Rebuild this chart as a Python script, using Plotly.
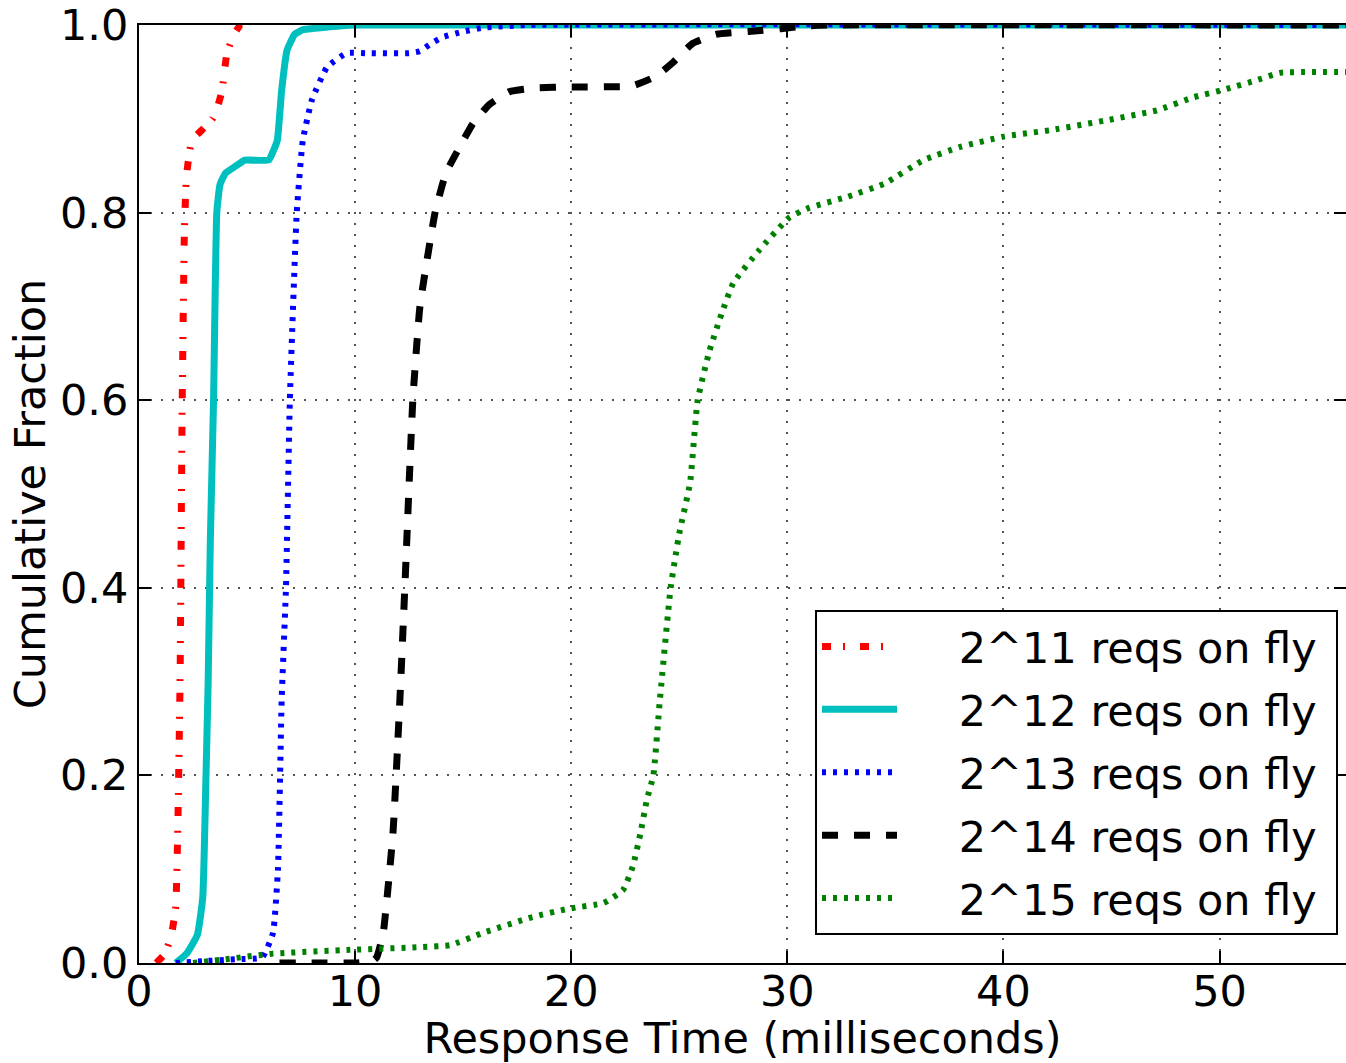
import plotly.graph_objects as go

# ---- data ----
names = ["2^11 reqs on fly", "2^12 reqs on fly", "2^13 reqs on fly",
         "2^14 reqs on fly", "2^15 reqs on fly"]

x11 = [0.8, 1.2, 1.5, 1.7, 1.8, 1.9, 1.95, 2.0, 2.1, 2.2, 2.45, 3.0, 3.4, 3.6, 3.84, 4.07, 4.4, 4.7, 5.2]
y11 = [0.0, 0.01, 0.03, 0.06, 0.15, 0.3, 0.45, 0.6, 0.78, 0.84, 0.877, 0.89, 0.9, 0.91, 0.93, 0.97, 0.99, 1.0, 1.0]

x12 = [1.7, 2.2, 2.7, 2.95, 3.1, 3.2, 3.3, 3.45, 3.6, 3.75, 4.0, 4.5, 4.9, 6.0, 6.2, 6.4, 6.6, 6.85, 7.2, 7.6, 8.8, 10.0, 56.0]
y12 = [0.0, 0.01, 0.03, 0.07, 0.2, 0.3, 0.45, 0.6, 0.8, 0.83, 0.842, 0.85, 0.856, 0.856, 0.865, 0.877, 0.93, 0.973, 0.99, 0.995, 0.998, 1.0, 1.0]

x13 = [1.7, 3.0, 4.5, 5.7, 6.2, 6.43, 6.6, 6.8, 6.98, 7.3, 7.58, 8.0, 8.7, 9.6, 10.5, 12.5, 13.0, 13.5, 14.05, 15.0, 15.9, 18.0, 56.0]
y13 = [0.0, 0.002, 0.004, 0.006, 0.032, 0.1, 0.28, 0.4, 0.6, 0.8, 0.877, 0.92, 0.955, 0.97, 0.97, 0.97, 0.972, 0.98, 0.987, 0.993, 0.997, 1.0, 1.0]

x14 = [6.5, 8.0, 10.0, 10.8, 11.0, 11.3, 11.75, 12.07, 12.3, 12.67, 13.0, 13.7, 14.2, 14.84, 15.45, 16.2, 17.15, 18.4, 19.9, 22.8, 23.9, 24.7, 25.6, 26.7, 28.2, 29.7, 30.8, 32.0, 56.0]
y14 = [0.0, 0.0, 0.0, 0.002, 0.006, 0.032, 0.138, 0.28, 0.4, 0.6, 0.7, 0.8, 0.842, 0.87, 0.895, 0.915, 0.929, 0.933, 0.934, 0.935, 0.945, 0.96, 0.98, 0.99, 0.993, 0.996, 0.999, 1.0, 1.0]

x15 = [2.5, 4.0, 6.2, 9.75, 13.1, 14.4, 15.9, 18.2, 19.9, 21.5, 22.4, 22.85, 23.2, 23.5, 23.8, 24.1, 24.6, 25.0, 25.5, 25.85, 26.4, 27.0, 27.5, 28.7, 30.1, 31.0, 32.8, 34.5, 36.3, 38.0, 40.0, 42.2, 44.9, 47.1, 48.8, 50.2, 51.7, 52.8, 55.9]
y15 = [0.0, 0.004, 0.01, 0.014, 0.017, 0.019, 0.032, 0.049, 0.058, 0.064, 0.078, 0.103, 0.138, 0.174, 0.2, 0.28, 0.4, 0.458, 0.512, 0.6, 0.653, 0.695, 0.725, 0.76, 0.795, 0.805, 0.817, 0.831, 0.856, 0.87, 0.881, 0.888, 0.899, 0.909, 0.923, 0.931, 0.941, 0.949, 0.95]

x_ticks = [0, 10, 20, 30, 40, 50]
y_ticks = [0.0, 0.2, 0.4, 0.6, 0.8, 1.0]
y_tick_text = ["0.0", "0.2", "0.4", "0.6", "0.8", "1.0"]

series = [
    (x11, y11, "#ff0000", 7, "9px,12px,2px,15px"),
    (x12, y12, "#00bfbf", 7, "solid"),
    (x13, y13, "#0000ff", 6, "4px,7px"),
    (x14, y14, "#000000", 7, "16px,16px"),
    (x15, y15, "#008000", 6, "4px,7px"),
]

FONT = "DejaVu Sans"
FS = 43
PAD_L = "\u2002\u2002\u00a0"   # spacing between legend sample and label
PAD_R = "\u00a0"

fig = go.Figure()
for i, ((xs, ys, col, w, dash), nm) in enumerate(zip(series, names)):
    fig.add_trace(go.Scatter(
        x=xs, y=ys, mode="lines", name=PAD_L + nm + PAD_R, legendgroup=f"g{i}",
        line=dict(color=col, width=w, dash=dash, shape="spline", smoothing=0.4),
    ))

axis_common = dict(
    showline=True, linecolor="black", linewidth=2, mirror="ticks",
    ticks="inside", ticklen=12, tickwidth=1.5, tickcolor="black",
    showgrid=True, gridcolor="#555555", gridwidth=1.5, griddash="2px,9px",
    zeroline=False, automargin=False, ticklabeloverflow="allow",
    tickfont=dict(family=FONT, size=FS, color="black"),
)

fig.update_layout(
    width=1346, height=1063,
    margin=dict(l=139, r=0, t=25, b=100),
    paper_bgcolor="white", plot_bgcolor="white",
    font=dict(family=FONT, size=FS, color="black"),
    xaxis=dict(range=[0, 55.85], tickvals=x_ticks, ticktext=[str(t) for t in x_ticks],
               ticklabelstandoff=-11,
               title=dict(text="Response Time (milliseconds)", font=dict(family=FONT, size=FS), standoff=0),
               **axis_common),
    yaxis=dict(range=[0, 1.0], tickvals=y_ticks, ticktext=y_tick_text,
               title=dict(text="Cumulative Fraction", font=dict(family=FONT, size=FS), standoff=1),
               **axis_common),
    legend=dict(
        x=(815 - 139) / 1207, y=(963 - 610) / 938, xanchor="left", yanchor="top",
        bgcolor="white", bordercolor="black", borderwidth=2,
        font=dict(family=FONT, size=FS, color="black"),
        tracegroupgap=4, itemwidth=75,
    ),
    showlegend=True,
)

fig.write_html("out.html", config={"displayModeBar": False},
               post_script="document.body.style.margin='0px';")
